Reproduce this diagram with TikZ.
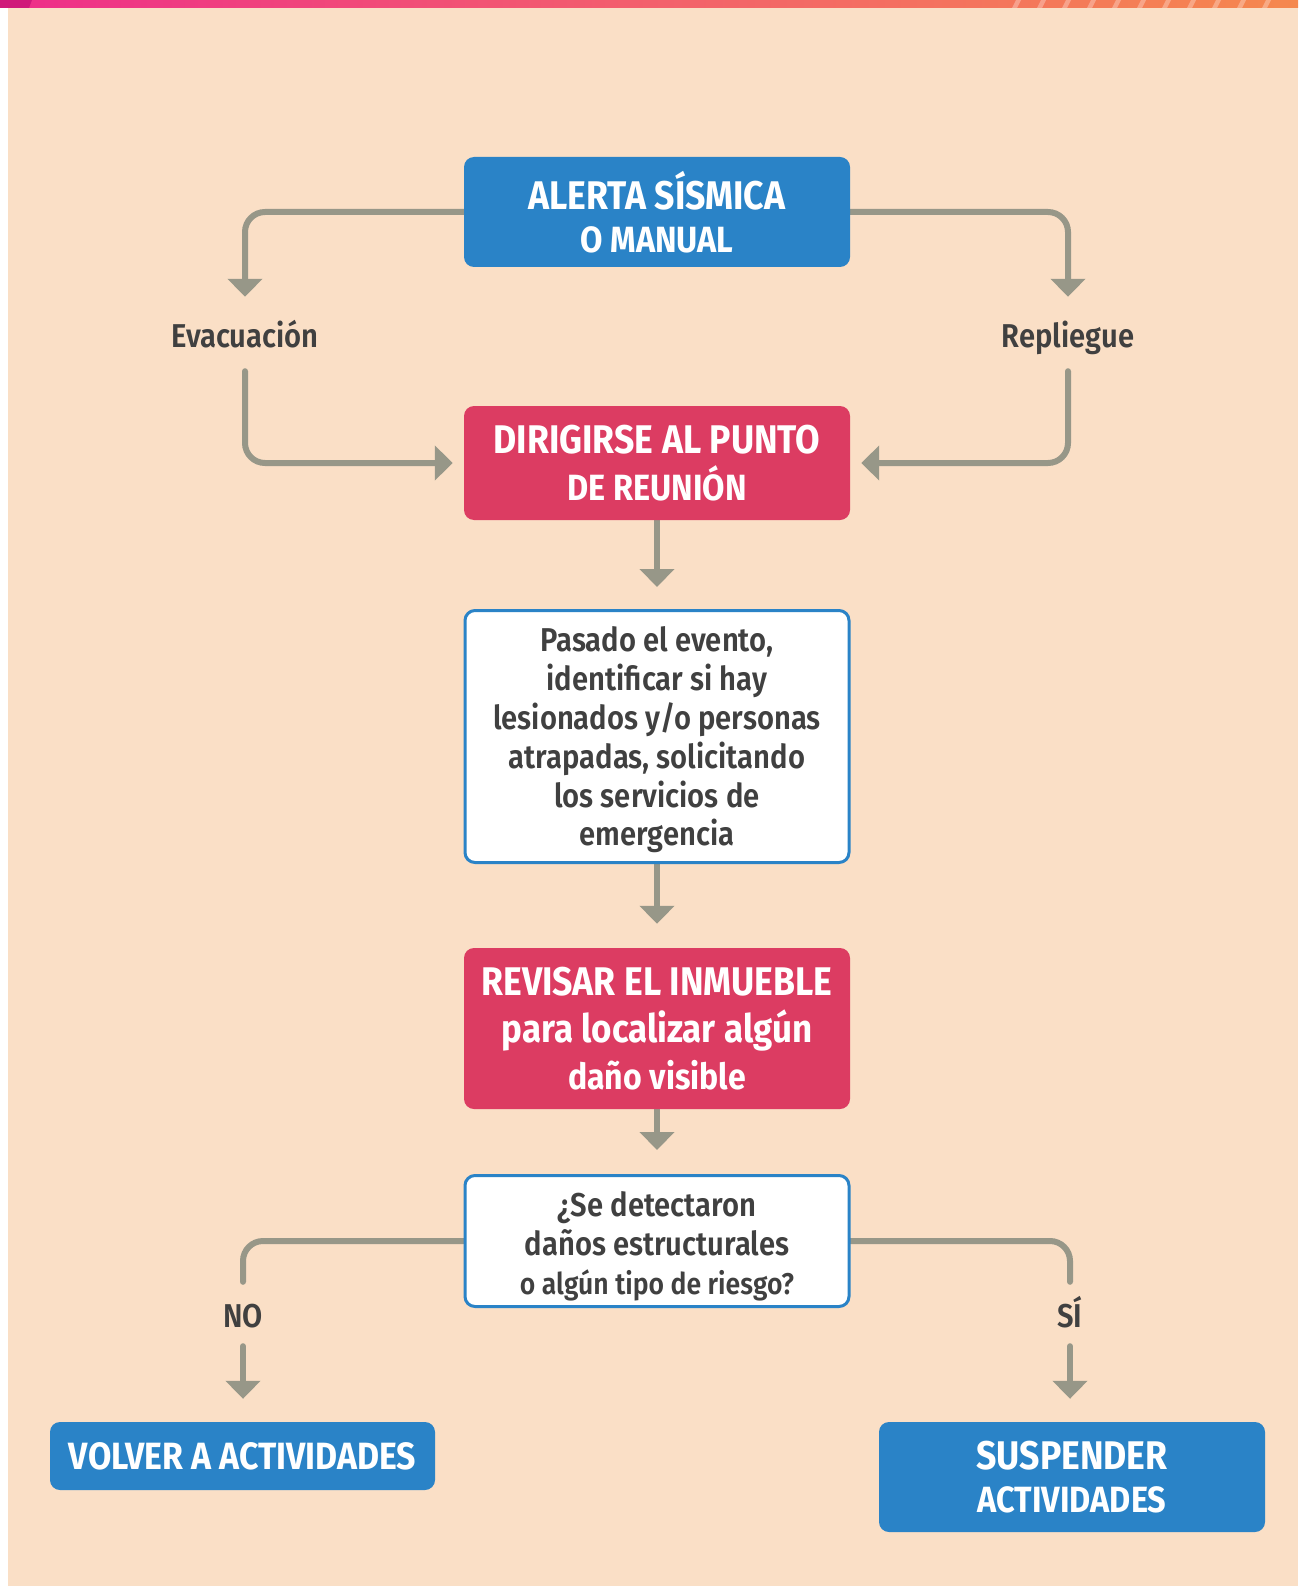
\documentclass[tikz,border=0pt]{standalone}
\usepackage{fontspec}
\setmainfont{Fira Sans}[FakeStretch=0.89]
\newfontfamily\fhead{Fira Sans Bold}[FakeStretch=0.89]
\newfontfamily\fbody{Fira Sans SemiBold}[FakeStretch=0.885]
\usetikzlibrary{arrows.meta}
\pgfdeclarelayer{bottom}
\pgfdeclarelayer{lines}
\pgfsetlayers{bottom,lines,main}
\definecolor{bg}{HTML}{FADFC6}
\definecolor{fblue}{HTML}{2A83C7}
\definecolor{fred}{HTML}{DC3C62}
\definecolor{fgrey}{HTML}{979788}
\definecolor{ftext}{HTML}{404040}
\definecolor{barA}{HTML}{EE2D8A}
\definecolor{barB}{HTML}{F3606C}
\definecolor{barC}{HTML}{F5884E}
\definecolor{barD}{HTML}{D0197A}
\newcommand\sndline{\fontsize{36.5}{44}\selectfont}
\tikzset{
  box/.style={rounded corners=10pt, minimum width=386pt, align=center, inner sep=0pt, text=white},
  bluebox/.style={box, fill=fblue, font=\fhead\fontsize{40}{43.5}\selectfont},
  redbox/.style={box, fill=fred, font=\fhead\fontsize{40}{47}\selectfont},
  whitebox/.style={box, minimum width=384pt, fill=white, draw=fblue, line width=3pt, text=ftext, font=\fbody\fontsize{33}{38.8}\selectfont},
  lbl/.style={inner sep=0pt, text=ftext, text height=26pt, text depth=0pt, font=\fbody\fontsize{33}{36}\selectfont},
  conn/.style={draw=fgrey, line width=6pt, rounded corners=20pt, line cap=round, -{Triangle[width=34pt,length=18pt]}},
  plain/.style={draw=fgrey, line width=6pt, rounded corners=20pt, line cap=round}
}
\begin{document}
\begin{tikzpicture}[x=1pt,y=-1pt]
\useasboundingbox (0,0) rectangle (1298,1586);
\begin{pgfonlayer}{bottom}
\fill[bg] (0,0) rectangle (1298,1586);
\fill[white] (0,8) rectangle (8,1586);
\shade[left color=barA, right color=barC, middle color=barB] (0,0) rectangle (1298,8);
\fill[barD] (0,0) -- (32,0) -- (29,8) -- (0,8) -- cycle;
\foreach \i in {0,...,10} \fill[white,opacity=0.3] ({1012+\i*25},8) -- ++(5,0) -- ++(4,-8) -- ++(-5,0) -- cycle;
\end{pgfonlayer}

\node[bluebox, minimum height=110pt] (alerta) at (657,212) {ALERTA SÍSMICA\\{\sndline O MANUAL}};
\node[lbl, minimum height=74pt] (evac) at (245,334) {Evacuación};
\node[lbl, minimum height=74pt] (repl) at (1068,334) {Repliegue};
\node[redbox, minimum height=114pt] (dir) at (657,463) {DIRIGIRSE AL PUNTO\\{\sndline DE REUNIÓN}};
\node[whitebox, minimum height=252pt] (pasado) at (657,736.5) {\rule{0pt}{32pt}Pasado el evento,\\identificar si hay\\lesionados y/o personas\\atrapadas, solicitando\\los servicios de\\emergencia};
\node[redbox, minimum height=161pt] (revisar) at (657,1028.5) {REVISAR EL INMUEBLE\\{\fontsize{39.2}{46}\selectfont para localizar algún}\\{\fontsize{36}{46}\selectfont daño visible}};
\node[whitebox, minimum height=131pt] (preg) at (657,1241) {\rule{0pt}{36pt}¿Se detectaron\\daños estructurales\\{\fontsize{30}{36}\selectfont o algún tipo de riesgo?}};
\node[lbl, minimum height=64pt] (no) at (243,1314) {NO};
\node[lbl, minimum height=64pt] (si) at (1070,1314) {SÍ};
\node[bluebox, minimum width=385pt, minimum height=68pt, font=\fhead\fontsize{38}{43}\selectfont] (volver) at (242.5,1456) {VOLVER A ACTIVIDADES};
\node[bluebox, minimum height=110pt] (susp) at (1072,1477) {SUSPENDER\\{\sndline ACTIVIDADES}};

\begin{pgfonlayer}{lines}
\draw[conn] (alerta.west) -| (evac.north);
\draw[conn] (alerta.east) -| (repl.north);
\draw[conn, shorten >=11pt] (evac.south) |- (dir.west);
\draw[conn, shorten >=11pt] (repl.south) |- (dir.east);
\draw[conn, shorten >=22pt] (dir.south) -- (pasado.north);
\draw[conn, shorten >=24pt] (pasado.south) -- (revisar.north);
\draw[conn, shorten >=24pt] (revisar.south) -- (preg.north);
\draw[plain] (preg.west) -| (no.north);
\draw[plain] (preg.east) -| (si.north);
\draw[conn, shorten >=23pt] (no.south) -- (no.south |- volver.north);
\draw[conn, shorten >=23pt] (si.south) -- (si.south |- susp.north);
\end{pgfonlayer}
\end{tikzpicture}
\end{document}
